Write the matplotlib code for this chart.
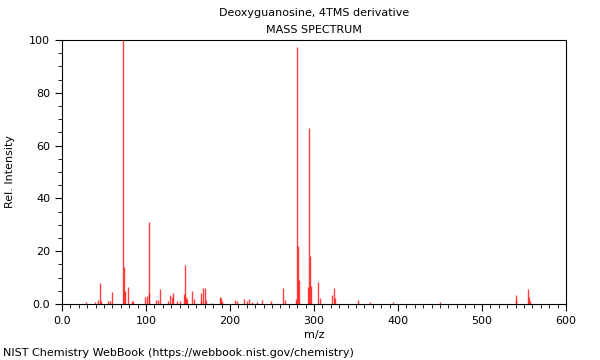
import matplotlib
matplotlib.use("Agg")
import matplotlib.pyplot as plt
from matplotlib.ticker import MultipleLocator, FuncFormatter

title = "Deoxyguanosine, 4TMS derivative"
subtitle = "MASS SPECTRUM"
footer = "NIST Chemistry WebBook (https://webbook.nist.gov/chemistry)"

mz = [28, 39, 43, 45, 47, 55, 57, 59, 73, 74, 75, 79, 83, 85,
      99, 101, 103, 104, 112, 114, 117, 126, 129, 131, 132, 137, 141,
      145, 147, 148, 149, 155, 157, 165, 166, 168, 170, 172, 178,
      188, 189, 191, 206, 208, 217, 220, 223, 226, 232, 238, 249,
      263, 265, 278, 280, 281, 282, 293, 294, 295, 296, 305, 307,
      322, 324, 325, 352, 367, 394, 450, 540, 541, 555, 556, 557]
intensity = [0.6, 0.6, 1.5, 8.0, 1.3, 1.0, 1.0, 4.5, 100.0, 14.0, 5.0, 6.5, 1.0, 1.0,
             2.5, 3.0, 31.0, 4.0, 1.5, 1.5, 5.5, 1.3, 3.4, 2.5, 4.3, 1.0, 1.0,
             3.8, 14.9, 2.8, 1.8, 4.9, 1.8, 1.1, 4.0, 5.9, 6.0, 1.5, 0.5,
             2.8, 2.1, 1.1, 1.5, 1.3, 1.8, 1.1, 2.0, 0.9, 0.9, 1.5, 1.3,
             5.9, 1.5, 1.8, 97.5, 22.0, 9.0, 6.6, 66.5, 18.3, 7.0, 8.2, 2.1,
             3.5, 6.0, 2.1, 1.5, 0.9, 0.9, 0.6, 3.4, 1.5, 5.6, 2.8, 1.2]

plt.rcParams['font.family'] = ['DejaVu Sans']
fig = plt.figure(figsize=(6, 3.6), dpi=100)
ax = fig.add_axes([62/600, 1-304/360, 504/600, 264/360])

ax.vlines(mz, 0, intensity, colors='#ff0000', linewidth=1.0, alpha=0.75)

ax.set_xlim(0, 600)
ax.set_ylim(0, 100)
ax.xaxis.set_major_locator(MultipleLocator(100))
ax.xaxis.set_minor_locator(MultipleLocator(10))
ax.yaxis.set_major_locator(MultipleLocator(20))
ax.yaxis.set_minor_locator(MultipleLocator(5))
fmt = FuncFormatter(lambda v, p: "0.0" if v == 0 else f"{int(v)}")
ax.xaxis.set_major_formatter(fmt)
ax.yaxis.set_major_formatter(fmt)
ax.tick_params(which='major', length=5, width=0.8, labelsize=8, direction='out')
ax.tick_params(which='minor', length=3, width=0.6, direction='out')
for s in ax.spines.values():
    s.set_linewidth(0.8)

ax.set_xlabel("m/z", fontsize=8, labelpad=3)
ax.set_ylabel("Rel. Intensity", fontsize=8, labelpad=10)

fig.text(314/600, 1-13/360, title, ha='center', va='center', fontsize=8)
fig.text(314/600, 1-30/360, subtitle, ha='center', va='center', fontsize=8)
fig.text(3/600, 1-353/360, footer, ha='left', va='center', fontsize=8)

fig.savefig("out.png", dpi=100)
